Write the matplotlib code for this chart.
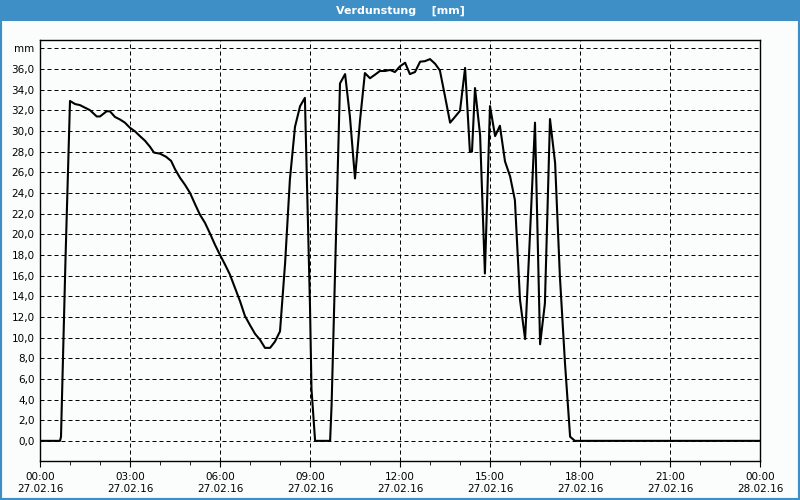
import matplotlib
matplotlib.use("Agg")
import matplotlib.pyplot as plt
from matplotlib.patches import Rectangle
from matplotlib.ticker import MultipleLocator

# hours since 27.02.16 00:00 and evaporation in mm
hours = [0.0, 0.667, 0.7, 0.85, 1.0, 1.17, 1.33, 1.67, 1.89, 2.0, 2.22, 2.33, 2.5,
         2.67, 2.83, 3.0, 3.17, 3.33, 3.5, 3.67, 3.8, 4.0, 4.2, 4.37, 4.5, 4.67,
         4.83, 5.0, 5.17, 5.33, 5.5, 5.67, 5.83, 6.0, 6.17, 6.33, 6.5, 6.67, 6.83,
         7.0, 7.17, 7.33, 7.5, 7.67, 7.83, 8.0, 8.17, 8.33, 8.5, 8.67, 8.83, 9.0,
         9.05, 9.17, 9.67, 9.72, 10.0, 10.17, 10.33, 10.5, 10.67, 10.83, 11.0,
         11.17, 11.33, 11.5, 11.67, 11.83, 12.0, 12.17, 12.33, 12.5, 12.67, 12.83,
         13.0, 13.17, 13.33, 13.5, 13.67, 13.83, 14.0, 14.17, 14.33, 14.4, 14.5,
         14.67, 14.83, 15.0, 15.17, 15.33, 15.5, 15.67, 15.83, 16.0, 16.17, 16.33,
         16.5, 16.67, 16.83, 17.0, 17.17, 17.33, 17.5, 17.67, 17.83, 24.0]
values = [0.0, 0.0, 0.4, 17.6, 32.9, 32.6, 32.5, 32.0, 31.4, 31.4, 31.9, 31.9, 31.35,
          31.1, 30.8, 30.3, 29.95, 29.5, 29.05, 28.45, 27.9, 27.8, 27.5, 27.1, 26.3,
          25.45, 24.8, 24.0, 22.9, 21.9, 21.1, 20.05, 19.0, 18.0, 17.05, 16.1, 14.8,
          13.5, 12.1, 11.2, 10.35, 9.8, 9.0, 9.0, 9.6, 10.6, 17.2, 25.3, 30.4, 32.4,
          33.2, 13.0, 5.0, 0.0, 0.0, 3.5, 34.6, 35.5, 31.4, 25.4, 31.1, 35.6, 35.1,
          35.45, 35.8, 35.8, 35.9, 35.7, 36.25, 36.6, 35.5, 35.7, 36.7, 36.75, 36.95,
          36.5, 35.85, 33.35, 30.8, 31.35, 31.95, 36.1, 28.0, 28.0, 34.15, 29.6,
          16.2, 32.4, 29.5, 30.5, 27.05, 25.6, 23.3, 13.65, 9.85, 19.8, 30.8, 9.35,
          13.3, 31.15, 26.9, 15.9, 7.5, 0.4, 0.0, 0.0]

tick_hours = [0, 3, 6, 9, 12, 15, 18, 21, 24]
tick_labels = ["00:00\n27.02.16", "03:00\n27.02.16", "06:00\n27.02.16",
               "09:00\n27.02.16", "12:00\n27.02.16", "15:00\n27.02.16",
               "18:00\n27.02.16", "21:00\n27.02.16", "00:00\n28.02.16"]
y_ticks = list(range(0, 40, 2))
y_labels = [f"{v:.1f}".replace(".", ",") for v in y_ticks[:-1]] + ["mm"]

BLUE = "#3d8fc6"
BG = "#fafdfb"

fig = plt.figure(figsize=(8, 5), dpi=100, facecolor=BG)
fig.patches.append(Rectangle((0, 0), 1, 1, transform=fig.transFigure,
                             fill=False, edgecolor=BLUE, lw=3, zorder=0))
fig.patches.append(Rectangle((0, 0.958), 1, 0.042, transform=fig.transFigure,
                             facecolor=BLUE, edgecolor="none", zorder=1))
fig.text(0.5, 0.979, "Verdunstung    [mm]", color="white", fontsize=8,
         fontweight="bold", ha="center", va="center")

ax = fig.add_axes([0.05, 0.078, 0.9, 0.842])
ax.set_facecolor(BG)
ax.plot(hours, values, color="black", lw=1.5, zorder=3)

ax.set_xlim(0, 24)
ax.set_ylim(-1.95, 38.8)
ax.set_xticks(tick_hours)
ax.set_xticklabels(tick_labels)
ax.xaxis.set_minor_locator(MultipleLocator(1))
ax.set_yticks(y_ticks)
ax.set_yticklabels(y_labels)

ax.grid(True, which="major", color="black", ls=(0, (4, 3)), lw=0.72)
ax.tick_params(axis="y", length=0, labelsize=7.5, pad=4)
ax.tick_params(axis="x", which="major", length=4, labelsize=7.5, pad=4)
ax.tick_params(axis="x", which="minor", length=3)
for s in ax.spines.values():
    s.set_linewidth(1.0)

plt.savefig("out.png", dpi=100, facecolor=BG)
